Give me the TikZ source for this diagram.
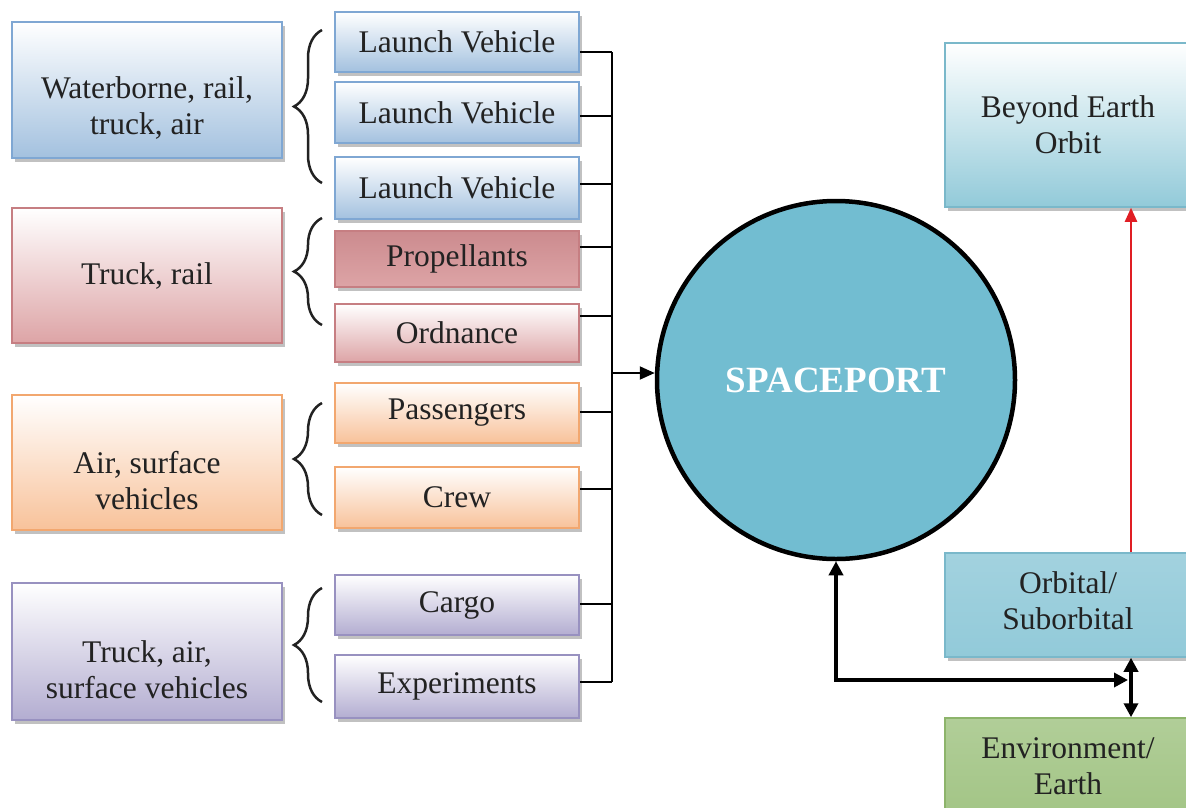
\documentclass[tikz,border=0pt]{standalone}
\usepackage{fontspec}
\setmainfont{Liberation Serif}
\usetikzlibrary{shadows,decorations.pathreplacing,arrows.meta}
\definecolor{bluef}{HTML}{A3C1DF}\definecolor{blued}{HTML}{7FA7D3}
\definecolor{redf}{HTML}{DDA4A6}\definecolor{redd}{HTML}{C67E82}
\definecolor{oraf}{HTML}{F8C29A}\definecolor{orad}{HTML}{F2A76F}
\definecolor{purf}{HTML}{B3ADD1}\definecolor{purd}{HTML}{9891C0}
\definecolor{cyanf}{HTML}{92CAD9}\definecolor{cyand}{HTML}{7AB8CA}
\definecolor{grnf}{HTML}{A3C586}\definecolor{grnd}{HTML}{8DB46B}
\definecolor{spf}{HTML}{72BDD1}
\definecolor{txt}{HTML}{222222}
\begin{document}
\begin{tikzpicture}[x=1pt,y=-1pt,
  base/.style={draw, line width=1.5pt, align=center, inner sep=2pt,
    font=\fontsize{31.5}{36}\selectfont, text=txt,
    drop shadow={shadow xshift=3pt, shadow yshift=-4pt, opacity=0.35, fill=black!70}},
  big/.style={base, minimum width=270pt},
  small/.style={base, minimum width=244pt},
  bluebox/.style={draw=blued, top color=white, bottom color=bluef},
  redbox/.style={draw=redd, top color=white, bottom color=redf},
  propbox/.style={draw=redd, top color=redd!90, middle color=redf!45, bottom color=redf},
  orabox/.style={draw=orad, top color=white, bottom color=oraf},
  purbox/.style={draw=purd, top color=white, bottom color=purf},
  cyanbox/.style={draw=cyand, top color=white, bottom color=cyanf},
  orbbox/.style={draw=cyand, top color=cyanf!85, middle color=cyanf!40, bottom color=cyanf},
  envbox/.style={draw=grnd, top color=grnf!85, middle color=grnf!50, bottom color=grnf},
  brace/.style={decorate, decoration={brace, amplitude=28pt}, line width=2.5pt, txt},
  conn/.style={line width=2pt, black},
  fat/.style={line width=3.5pt, black, {Triangle[length=14pt,width=14pt]}-{Triangle[length=14pt,width=14pt]}}
]
\useasboundingbox (0,0) rectangle (1186,807);

% left group boxes
\node[big, bluebox, minimum height=136pt] (wb) at (147,90) {\mbox{}\\[22pt]Waterborne, rail,\\truck, air};
\node[big, redbox, minimum height=135pt] (tr) at (147,275.5) {Truck, rail};
\node[big, orabox, minimum height=135pt] (as) at (147,462.5) {\mbox{}\\[22pt]Air, surface\\vehicles};
\node[big, purbox, minimum height=137pt] (ta) at (147,651.5) {\mbox{}\\[22pt]Truck, air,\\surface vehicles};

% small boxes
\node[small, bluebox, minimum height=60pt] (lv1) at (457,42) {Launch Vehicle};
\node[small, bluebox, minimum height=61pt] (lv2) at (457,112.5) {Launch Vehicle};
\node[small, bluebox, minimum height=62pt] (lv3) at (457,188) {Launch Vehicle};
\node[small, propbox, minimum height=56pt] (prop) at (457,259) {Propellants};
\node[small, redbox, minimum height=58pt] (ord) at (457,333) {Ordnance};
\node[small, orabox, minimum height=60pt] (pass) at (457,413) {Passengers};
\node[small, orabox, minimum height=61pt] (crew) at (457,497.5) {Crew};
\node[small, purbox, minimum height=60pt] (cargo) at (457,605) {Cargo};
\node[small, purbox, minimum height=63pt] (exp) at (457,686.5) {Experiments};

% braces
\draw[brace] (322,183) -- (322,30);
\draw[brace] (322,325) -- (322,218);
\draw[brace] (322,515) -- (322,403);
\draw[brace] (322,702) -- (322,588);

% spaceport
\node[circle, draw, line width=4.5pt, fill=spf, minimum size=358pt, inner sep=0pt,
  font=\fontsize{37}{40}\selectfont\bfseries, text=white] (sp) at (836,380) {SPACEPORT};

% bus
\coordinate (bt) at (612,52);
\coordinate (bb) at (612,682);
\coordinate (bm) at (612,373);
\draw[conn] (bt) -- (bb);
\draw[conn] ([yshift=-10pt]lv1.east) -- (bt);
\draw[conn] ([yshift=-3.5pt]lv2.east) -- ++(33,0);
\draw[conn] ([yshift=4pt]lv3.east) -- ++(33,0);
\draw[conn] ([yshift=12pt]prop.east) -- ++(33,0);
\draw[conn] ([yshift=17pt]ord.east) -- ++(33,0);
\draw[conn] ([yshift=1pt]pass.east) -- ++(33,0);
\draw[conn] ([yshift=8.5pt]crew.east) -- ++(33,0);
\draw[conn] ([yshift=1pt]cargo.east) -- ++(33,0);
\draw[conn] ([yshift=4.5pt]exp.east) -- (bb);
\draw[conn, -{Triangle[length=15pt,width=13pt]}] (bm) -- (bm -| sp.west);

% right boxes
\node[base, cyanbox, minimum width=246pt, minimum height=164pt] (beo) at (1068,125) {Beyond Earth\\Orbit};
\node[base, orbbox, minimum width=246pt, minimum height=104pt] (orb) at (1068,605) {Orbital/\\Suborbital\\[-28pt]\mbox{}};
\node[base, envbox, minimum width=246pt, minimum height=96pt] (env) at (1068,766) {Environment/\\Earth};

% connectors right
\draw[line width=2.2pt, color={rgb,255:red,224;green,30;blue,36}, -{Triangle[length=14pt,width=12pt]}]
  ([xshift=63pt]orb.north) -- ([xshift=63pt]beo.south);
\coordinate (jn) at (1128,680);
\draw[fat] (sp.south) |- (jn);
\draw[fat] ([xshift=63pt]orb.south) -- ([xshift=63pt]env.north);
\end{tikzpicture}
\end{document}
